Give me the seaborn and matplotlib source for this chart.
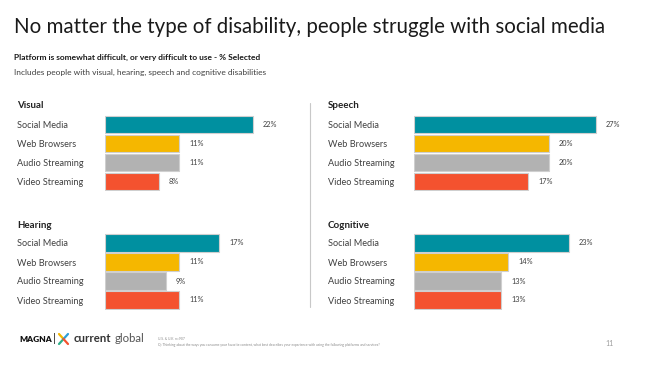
import matplotlib
matplotlib.use("Agg")
import matplotlib.pyplot as plt
import seaborn as sns
import pandas as pd
from matplotlib.lines import Line2D

# ---- data ----
platforms = ["Social Media", "Web Browsers", "Audio Streaming", "Video Streaming"]
visual = [22, 11, 11, 8]
speech = [27, 20, 20, 17]
hearing = [17, 11, 9, 11]
cognitive = [23, 14, 13, 13]
panel_titles = ["Visual", "Speech", "Hearing", "Cognitive"]
colors = ["#0090A0", "#F5B700", "#B2B2B2", "#F4522F"]

title = "No matter the type of disability, people struggle with social media"
subtitle1 = "Platform is somewhat difficult, or very difficult to use - % Selected"
subtitle2 = "Includes people with visual, hearing, speech and cognitive disabilities"
footnote1 = "U.S. & U.K. n=907"
footnote2 = ("Q: Thinking about the ways you consume your favorite content, what best describes "
             "your experience with using the following platforms and services?")
page_no = "11"

series = {"Visual": visual, "Speech": speech, "Hearing": hearing, "Cognitive": cognitive}
rows = []
for k, vals in series.items():
    for p, v in zip(platforms, vals):
        rows.append({"Disability": k, "Platform": p, "Value": v})
df = pd.DataFrame(rows)

sns.set_theme(style="white")
plt.rcParams["font.family"] = ["Lato", "DejaVu Sans"]

W, H = 646, 376
fig = plt.figure(figsize=(W / 100, H / 100), dpi=100)
fig.patch.set_facecolor("white")

def fx(px):
    return px / W

def fy(py):
    return 1 - py / H

PXPP = 6.73  # pixels per percent
XMAX = 30
# (bar start x, label x, top y, bottom y)
layout = {
    "Visual": (105, 17, 115, 191),
    "Speech": (414, 328, 115, 191),
    "Hearing": (105, 17, 233.5, 309.5),
    "Cognitive": (414, 328, 233.5, 309.5),
}
title_y = {"Visual": 105, "Speech": 105, "Hearing": 225, "Cognitive": 225}

for name in panel_titles:
    bx, lx, ty, by = layout[name]
    ax = fig.add_axes([fx(bx), fy(by), fx(XMAX * PXPP), (by - ty) / H])
    sub = df[df["Disability"] == name]
    sns.barplot(data=sub, x="Value", y="Platform", hue="Platform", order=platforms,
                hue_order=platforms, palette=colors, legend=False, ax=ax, width=0.9,
                edgecolor="#cfcfcf", linewidth=0.8, saturation=1)
    ax.set_xlim(0, XMAX)
    ax.set_ylim(3.5, -0.5)
    ax.set_xlabel("")
    ax.set_ylabel("")
    ax.set_xticks([])
    for s in ax.spines.values():
        s.set_visible(False)
    pad_pt = (bx - lx) * 72 / 100
    ax.tick_params(axis="y", length=0, pad=pad_pt, labelsize=6.6, labelcolor="#404040")
    for lab in ax.get_yticklabels():
        lab.set_horizontalalignment("left")
    for i, v in enumerate(sub["Value"].tolist()):
        ax.text(v + 1.5, i, f"{v}%", va="center", ha="left", fontsize=5.3, color="#404040")
    fig.text(fx(lx), fy(title_y[name]), name, fontsize=7.0, fontweight="bold",
             color="#222222", va="center", ha="left")

# divider
fig.add_artist(Line2D([fx(310), fx(310)], [fy(103), fy(307)], color="#c8c8c8", lw=0.8))

# titles
fig.text(fx(14), fy(27), title, fontsize=14.8, color="#1a1a1a", va="center", ha="left")
fig.text(fx(14), fy(57), subtitle1, fontsize=6.0, fontweight="bold", color="#1a1a1a",
         va="center", ha="left")
fig.text(fx(14), fy(72), subtitle2, fontsize=6.0, color="#404040", va="center", ha="left")

# footer logo
fig.text(fx(19), fy(339), "MAGNA", fontsize=6.0, fontweight="heavy", color="#111111",
         va="center", ha="left")
fig.text(fx(53), fy(339), "|", fontsize=8, color="#111111", va="center", ha="left")
cx, cy = 63.5, 339
arms = [((-4.5, -5), "#F5B700"), ((4.5, -5), "#2E9FD8"), ((-4.5, 5), "#2DB08A"), ((4.5, 5), "#F4522F")]
for (dx, dy), c in arms:
    fig.add_artist(Line2D([fx(cx), fx(cx + dx)], [fy(cy), fy(cy + dy)], color=c, lw=1.6,
                          solid_capstyle="round"))
fig.text(fx(74), fy(339), "current", fontsize=8.2, fontweight="bold", color="#333333",
         va="center", ha="left")
fig.text(fx(115), fy(339), "global", fontsize=8.2, color="#555555", va="center", ha="left")

fig.text(fx(158), fy(339), footnote1, fontsize=2.4, color="#8a8a8a", va="center", ha="left")
fig.text(fx(158), fy(345), footnote2, fontsize=2.4, color="#8a8a8a", va="center", ha="left")
fig.text(fx(605), fy(343), page_no, fontsize=5, color="#9a9a9a", va="center", ha="left")

fig.savefig("out.png", dpi=100, facecolor="white")
